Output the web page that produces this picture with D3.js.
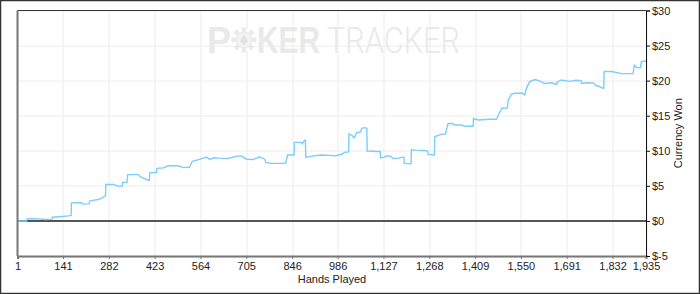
<!DOCTYPE html>
<html>
<head>
<meta charset="utf-8">
<script src="https://cdn.jsdelivr.net/npm/d3@7"></script>
<style>
  body { margin: 0; background: #fff; }
  svg { display: block; font-family: "Liberation Sans", Arial, sans-serif; }
  .tick text { font-size: 11px; fill: #222; }
</style>
</head>
<body>
<svg width="700" height="294"></svg>
<script>
// hands played (x) and currency won (y)
const hands = [1, 29, 30, 42, 65, 88, 108, 109, 139, 157, 166, 167, 196, 201, 221, 224, 237, 250, 259, 268, 272, 273, 298, 310, 317, 323, 324, 338, 340, 373, 378, 404, 407, 408, 424, 429, 430, 450, 465, 495, 511, 530, 539, 563, 583, 593, 606, 620, 650, 660, 676, 690, 706, 725, 740, 744, 752, 762, 765, 780, 826, 832, 852, 853, 874, 878, 884, 887, 888, 906, 935, 960, 980, 999, 1007, 1020, 1021, 1030, 1037, 1045, 1057, 1060, 1070, 1076, 1077, 1105, 1117, 1118, 1130, 1137, 1150, 1157, 1175, 1184, 1190, 1191, 1212, 1213, 1224, 1250, 1262, 1265, 1284, 1285, 1301, 1318, 1326, 1340, 1345, 1365, 1378, 1403, 1404, 1420, 1450, 1475, 1485, 1492, 1508, 1511, 1521, 1530, 1555, 1562, 1567, 1577, 1593, 1605, 1624, 1645, 1660, 1662, 1675, 1700, 1720, 1735, 1737, 1755, 1775, 1780, 1790, 1803, 1805, 1806, 1830, 1860, 1895, 1899, 1906, 1918, 1921, 1935];
const won = [0, 0, 0.25, 0.35, 0.3, 0.2, 0.25, 0.53, 0.63, 0.72, 0.8, 2.57, 2.63, 2.4, 2.43, 2.86, 2.96, 3.05, 3.2, 3.5, 3.6, 5.2, 5.2, 4.96, 4.96, 4.96, 5.5, 5.5, 6.6, 6.6, 6.3, 5.8, 5.8, 6.86, 6.9, 6.9, 7.5, 7.57, 7.86, 7.86, 7.6, 7.65, 8.5, 8.8, 9.1, 8.77, 9.0, 8.95, 8.9, 9.05, 9.24, 9.27, 8.8, 8.75, 9.0, 9.14, 9.0, 8.8, 8.34, 8.2, 8.2, 9.4, 9.4, 11.2, 11.2, 11.0, 11.5, 11.5, 9.06, 9.24, 9.39, 9.35, 9.3, 9.5, 9.77, 9.85, 12.4, 12.2, 11.86, 12.6, 12.7, 13.2, 13.3, 13.2, 9.96, 9.9, 9.9, 9.0, 9.1, 9.29, 9.2, 8.9, 8.95, 9.1, 9.1, 8.2, 8.15, 10.14, 10.1, 10.05, 10.0, 9.49, 9.4, 12.0, 12.3, 12.4, 13.9, 13.9, 13.67, 13.7, 13.5, 13.5, 14.6, 14.4, 14.5, 14.5, 15.5, 16.06, 16.1, 17.2, 18.06, 18.2, 18.2, 17.96, 18.9, 19.86, 20.15, 20.0, 19.6, 19.7, 19.45, 19.8, 20.1, 19.9, 20.05, 20.0, 19.6, 19.7, 19.65, 19.3, 19.2, 18.9, 18.9, 21.3, 21.3, 21.0, 21.0, 22.2, 21.86, 21.86, 22.7, 22.8];

const xTicks = [1, 141, 282, 423, 564, 705, 846, 986, 1127, 1268, 1409, 1550, 1691, 1832, 1935];
const yTicks = [-5, 0, 5, 10, 15, 20, 25, 30];

const svg = d3.select("svg");
const W = 700, H = 294;
const margin = {top: 10.5, right: 54, bottom: 38, left: 17.5};
const width = W - margin.left - margin.right;
const height = H - margin.top - margin.bottom;

// outer frame
svg.append("rect")
  .attr("x", 0.5).attr("y", 0.5)
  .attr("width", W - 1).attr("height", H - 1)
  .attr("fill", "none").attr("stroke", "#333").attr("stroke-width", 1.5);

const g = svg.append("g").attr("transform", `translate(${margin.left},${margin.top})`);

const x = d3.scaleLinear().domain([1, 1935]).range([0, width]);
const y = d3.scaleLinear().domain([-5, 30]).range([height, 0]);

// grid
g.append("g").selectAll("line").data(xTicks).join("line")
  .attr("x1", d => Math.round(x(d)) + 0.5).attr("x2", d => Math.round(x(d)) + 0.5)
  .attr("y1", 0).attr("y2", height)
  .attr("stroke", "#ececec");
g.append("g").selectAll("line").data(yTicks).join("line")
  .attr("x1", 0).attr("x2", width)
  .attr("y1", d => Math.round(y(d)) + 0.5).attr("y2", d => Math.round(y(d)) + 0.5)
  .attr("stroke", "#ececec");

// watermark
const wm = svg.append("g").attr("fill", "#e9e9e9");
wm.append("text").attr("x", 207).attr("y", 53)
  .attr("font-size", 36).attr("font-weight", "bold")
  .attr("textLength", 24).attr("lengthAdjust", "spacingAndGlyphs").text("P");
wm.append("text").attr("x", 257).attr("y", 53)
  .attr("font-size", 36).attr("font-weight", "bold")
  .attr("textLength", 63).attr("lengthAdjust", "spacingAndGlyphs").text("KER");
wm.append("text").attr("x", 327).attr("y", 53)
  .attr("font-size", 36).attr("font-family", "Roboto, 'Liberation Sans'").attr("font-weight", 300)
  .attr("textLength", 133).attr("lengthAdjust", "spacingAndGlyphs").text("TRACKER");
// chip as the O
const chip = wm.append("g").attr("transform", "translate(244,40)");
chip.append("circle").attr("r", 12.5);
chip.selectAll("rect").data(d3.range(8)).join("rect")
  .attr("x", -2).attr("y", -12.5).attr("width", 4).attr("height", 4)
  .attr("fill", "#fff")
  .attr("transform", d => `rotate(${d * 45 + 22.5})`);
chip.append("circle").attr("r", 7.5).attr("fill", "#f3f3f3");
chip.append("path")
  .attr("d", "M0,-5 C2,-2 5,0 3,2.5 C2,3.5 0.8,3 0.5,2 L1.5,5 L-1.5,5 L-0.5,2 C-0.8,3 -2,3.5 -3,2.5 C-5,0 -2,-2 0,-5 Z")
  .attr("fill", "#e2e2e2");

// zero line
g.append("line")
  .attr("x1", 0).attr("x2", width)
  .attr("y1", y(0)).attr("y2", y(0))
  .attr("stroke", "#555").attr("stroke-width", 2);

// data line
const pts = hands.map((h, i) => [h, won[i]]);
g.append("path")
  .datum(pts)
  .attr("fill", "none")
  .attr("stroke", "#7ccdfb")
  .attr("stroke-width", 1.4)
  .attr("d", d3.line().x(d => x(d[0])).y(d => y(d[1])));

// top border
g.append("line").attr("x1", 0).attr("x2", width).attr("y1", 0).attr("y2", 0)
  .attr("stroke", "#333").attr("stroke-width", 1);

// bottom axis
const xAxis = g.append("g")
  .attr("transform", `translate(0,${height})`)
  .call(d3.axisBottom(x).tickValues(xTicks).tickFormat(d3.format(",")).tickSize(3).tickPadding(3));
xAxis.select(".domain").attr("stroke", "#777").attr("stroke-width", 2);
xAxis.selectAll(".tick line").attr("stroke", "#777");

// left axis line
g.append("line").attr("x1", 0).attr("x2", 0).attr("y1", 0).attr("y2", height)
  .attr("stroke", "#777").attr("stroke-width", 2);

// right axis
const yAxis = g.append("g")
  .attr("transform", `translate(${width},0)`)
  .call(d3.axisRight(y).tickValues(yTicks).tickFormat(d => "$" + d).tickSize(4).tickPadding(2));
yAxis.select(".domain").attr("stroke", "#111");
yAxis.selectAll(".tick line").attr("stroke", "#111");

// axis titles
svg.append("text")
  .attr("x", 332).attr("y", 283)
  .attr("text-anchor", "middle").attr("font-size", 11).attr("fill", "#222")
  .text("Hands Played");
svg.append("text")
  .attr("transform", `translate(682,${margin.top + height / 2}) rotate(-90)`)
  .attr("text-anchor", "middle").attr("font-size", 11).attr("fill", "#222")
  .text("Currency Won");
</script>
</body>
</html>
